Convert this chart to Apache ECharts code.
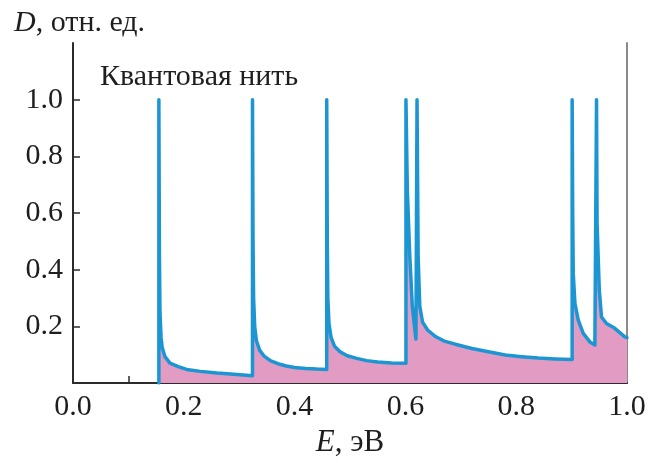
<!DOCTYPE html>
<html>
<head>
<meta charset="utf-8">
<script src="https://cdn.jsdelivr.net/npm/echarts@6/dist/echarts.min.js"></script>
<style>
  html, body { margin: 0; padding: 0; background: #fff; }
  #chart { width: 651px; height: 463px; }
</style>
</head>
<body>
<div id="chart"></div>
<script>
// Density of states of a quantum wire: energies (eV) and relative density.
// Each subband edge is a vertical jump to the peak followed by the 1/sqrt decay.
const energy = [
  0.155, 0.155, 0.156, 0.157, 0.159, 0.161, 0.166, 0.175, 0.19, 0.205, 0.23, 0.26, 0.29, 0.324,
  0.324, 0.325, 0.326, 0.328, 0.331, 0.337, 0.345, 0.357, 0.37, 0.385, 0.40, 0.42, 0.44, 0.458,
  0.458, 0.459, 0.46, 0.462, 0.466, 0.472, 0.482, 0.495, 0.512, 0.53, 0.55, 0.575, 0.601,
  0.601, 0.6035, 0.608, 0.6125, 0.619,
  0.621, 0.623, 0.626, 0.631, 0.64, 0.655, 0.67, 0.69, 0.72, 0.75, 0.78, 0.81, 0.84, 0.87, 0.901,
  0.901, 0.902, 0.903, 0.906, 0.912, 0.921, 0.933, 0.942, 0.945,
  0.945, 0.946, 0.950, 0.954, 0.963, 0.978, 0.996, 1.0
];
const density = [
  0.0, 1.0, 0.45, 0.25, 0.16, 0.125, 0.093, 0.07, 0.058, 0.048, 0.041, 0.035, 0.031, 0.026,
  1.0, 0.5, 0.3, 0.2, 0.15, 0.115, 0.095, 0.078, 0.068, 0.06, 0.055, 0.051, 0.049, 0.048,
  1.0, 0.5, 0.3, 0.21, 0.16, 0.13, 0.11, 0.096, 0.087, 0.079, 0.074, 0.071, 0.07,
  1.0, 0.68, 0.445, 0.27, 0.155,
  1.0, 0.445, 0.27, 0.215, 0.187, 0.163, 0.148, 0.137, 0.122, 0.11, 0.099, 0.093, 0.088, 0.085, 0.083,
  1.0, 0.6, 0.386, 0.281, 0.222, 0.175, 0.145, 0.134, 0.13,
  1.0, 0.562, 0.327, 0.233, 0.21, 0.193, 0.163, 0.16
];

const xLabelValues = [0, 0.2, 0.4, 0.6, 0.8, 1.0];
const xTickValues = [0.1, 0.2, 0.3, 0.4, 0.5, 0.6, 0.7, 0.8, 0.9];
const yLabelValues = [0.2, 0.4, 0.6, 0.8, 1.0];

const panelLabel = 'Квантовая нить';

const serif = '"Liberation Serif", "DejaVu Serif", serif';
const axisColor = '#2b2b2b';
const textColor = '#1e1e1e';

const points = energy.map((e, i) => [e, density[i]]);

const chart = echarts.init(document.getElementById('chart'), null, { renderer: 'canvas' });

chart.setOption({
  animation: false,
  backgroundColor: '#ffffff',
  title: [
    {
      text: '{i|D}, отн. ед.',
      left: 9,
      top: 3,
      textStyle: {
        fontFamily: serif, fontSize: 30, fontWeight: 'normal', color: textColor,
        rich: { i: { fontFamily: serif, fontSize: 30, fontStyle: 'italic', color: textColor } }
      }
    },
    {
      text: panelLabel,
      left: 95,
      top: 57,
      textStyle: { fontFamily: serif, fontSize: 30, fontWeight: 'normal', color: textColor }
    }
  ],
  grid: { left: 73, right: 24, top: 43, bottom: 80, containLabel: false },
  xAxis: {
    type: 'value',
    min: 0,
    max: 1,
    interval: 0.1,
    name: '{i|E}, эВ',
    nameLocation: 'middle',
    nameGap: 38,
    nameTextStyle: {
      fontFamily: serif, fontSize: 31, color: textColor,
      rich: { i: { fontFamily: serif, fontSize: 31, fontStyle: 'italic', color: textColor } }
    },
    axisLine: { show: true, onZero: false, lineStyle: { color: axisColor, width: 2 } },
    axisTick: {
      show: true, inside: true, length: 7,
      customValues: xTickValues,
      lineStyle: { color: axisColor, width: 1.5 }
    },
    axisLabel: {
      customValues: xLabelValues,
      margin: 9,
      fontFamily: serif, fontSize: 30, color: textColor,
      formatter: v => v.toFixed(1)
    },
    splitLine: { show: false }
  },
  yAxis: [
    {
      type: 'value',
      min: 0,
      max: 1.2,
      axisLine: { show: true, lineStyle: { color: axisColor, width: 2 } },
      axisTick: {
        show: true, inside: true, length: 7,
        customValues: yLabelValues,
        lineStyle: { color: axisColor, width: 1.5 }
      },
      axisLabel: {
        customValues: yLabelValues,
        margin: 10,
        fontFamily: serif, fontSize: 30, color: textColor,
        formatter: v => v.toFixed(1)
      },
      splitLine: { show: false }
    },
    {
      type: 'value',
      position: 'right',
      min: 0,
      max: 1.2,
      axisLine: { show: true, lineStyle: { color: '#8a8a8a', width: 2 } },
      axisTick: { show: false },
      axisLabel: { show: false },
      splitLine: { show: false }
    }
  ],
  series: [
    {
      type: 'line',
      data: points,
      yAxisIndex: 0,
      showSymbol: false,
      symbol: 'none',
      smooth: false,
      clip: true,
      lineStyle: { color: '#1b96d3', width: 3.5, join: 'round', cap: 'round' },
      areaStyle: { color: '#e29bc3', opacity: 1, origin: 'start' },
      z: 2
    }
  ]
});
</script>
</body>
</html>
